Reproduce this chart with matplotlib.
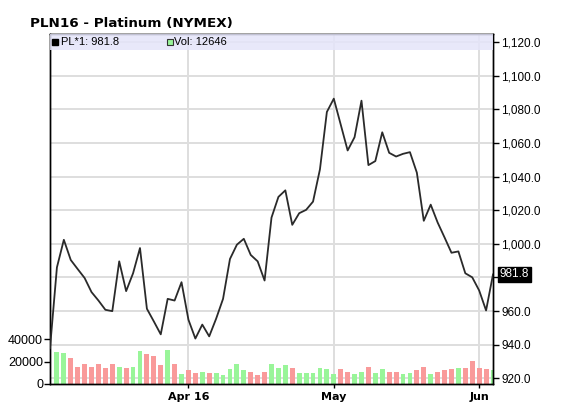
import matplotlib
matplotlib.use("Agg")
import matplotlib.pyplot as plt
import matplotlib.transforms as mtransforms
from matplotlib.patches import Rectangle
import pandas as pd

plt.rcParams['font.family'] = ['Liberation Sans', 'DejaVu Sans']

title = "PLN16 - Platinum (NYMEX)"
symbol = "PL*1"
dates = pd.bdate_range("2016-03-03", "2016-06-03", freq="C",
                       holidays=["2016-03-25", "2016-05-30"])
close = [938.0, 986.0, 1002.4, 990.4, 985.0, 979.7, 971.3, 966.3, 960.8, 960.0,
         989.6, 971.9, 982.5, 997.5, 961.4, 953.9, 946.2, 967.3, 966.3, 977.2,
         954.9, 943.7, 952.0, 945.0, 955.5, 967.3, 991.0, 999.5, 1003.0, 993.4,
         989.6, 978.2, 1015.6, 1027.9, 1031.8, 1011.3, 1018.2, 1020.2, 1025.1, 1044.3,
         1078.4, 1086.3, 1070.9, 1055.5, 1063.4, 1085.1, 1046.8, 1049.2, 1066.3, 1054.1,
         1051.9, 1053.5, 1054.5, 1042.3, 1013.7, 1023.3, 1012.7, 1003.8, 994.7, 995.5,
         982.5, 980.1, 972.3, 960.4, 981.8]
# volume for dates[1:]
volume = [28400, 27500, 23000, 15500, 17600, 15500, 17600, 14600, 17600, 15500,
          14600, 15500, 29500, 26600, 25400, 16700, 30400, 17600, 9000, 12200,
          10100, 11000, 10100, 10100, 7800, 13100, 17600, 12200, 11000, 7800,
          11000, 17600, 14600, 16700, 14600, 10100, 10100, 10100, 14600, 13100,
          9000, 13100, 11000, 9000, 11000, 15500, 10100, 13100, 11000, 11000,
          9000, 10100, 12200, 15500, 9000, 11000, 12200, 13100, 14600, 14600,
          20900, 14600, 13100, 12646]
month_ticks = ["2016-04-01", "2016-05-02", "2016-06-01"]
month_labels = ["Apr 16", "May", "Jun"]
price_ticks = list(range(920, 1121, 20))
vol_ticks = [0, 20000, 40000]

up_color = '#99f599'
down_color = '#f99a9a'
grid_color = '#dedede'

x = list(range(len(dates)))
date_index = {d.strftime("%Y-%m-%d"): i for i, d in enumerate(dates)}
tick_x = [date_index[m] for m in month_ticks]

W, H = 576, 412
fig = plt.figure(figsize=(W / 100, H / 100), dpi=100)
top_px, bot_px, left_px, right_px = 34, 384, 50, 493
L, R, Bt, Tp = left_px / W, right_px / W, (H - bot_px) / H, (H - top_px) / H
pw, ph = right_px - left_px, bot_px - top_px
ax_v = fig.add_axes([L, Bt, R - L, Tp - Bt])
ax = ax_v.twinx()
ax.set_zorder(ax_v.get_zorder() + 1)
ax.patch.set_visible(False)

# grid (drawn in the lower axes so bars sit on top)
blend = mtransforms.blended_transform_factory(ax_v.transAxes, ax.transData)
for p in price_ticks:
    ax_v.plot([0, 1], [p, p], transform=blend, color=grid_color, lw=1.4, zorder=0)
for tx in tick_x:
    ax_v.axvline(tx, color=grid_color, lw=1.4, zorder=0)

# volume bars
colors = [up_color if close[i + 1] >= close[i] else down_color for i in range(len(volume))]
ax_v.bar(x[1:], volume, width=0.7, color=colors, zorder=2)
ax_v.set_ylim(0, 313000 * ph / 349)
ax_v.set_yticks(vol_ticks)
ax_v.set_yticklabels([str(v) for v in vol_ticks])
ax_v.set_xlim(0, len(dates) - 1)
ax_v.set_xticks(tick_x)
ax_v.set_xticklabels(month_labels, fontweight='bold', fontsize=8,
                     family=['DejaVu Sans'])
ax_v.tick_params(axis='x', length=3, width=1, pad=3)
ax_v.tick_params(axis='y', labelsize=9, length=4, width=1, pad=1)

# price line
last = close[-1]
ax.plot(x, close, color='#2a2a2a', lw=1.3, zorder=3)
ax.set_ylim(920 - 5.6 / 1.692, 1120 + (42 - top_px) / 1.692)
ax.set_yticks(price_ticks)
ax.set_yticklabels(["" if abs(p - last) < 10 else f"{p:,.1f}" for p in price_ticks])
ax.tick_params(axis='y', labelsize=8.5, length=4, width=1, pad=2)
ax.set_xlim(0, len(dates) - 1)

for a in (ax, ax_v):
    for s in a.spines.values():
        s.set_color('black')
        s.set_linewidth(1.0)

# legend band
band_h = 16 / ph
ax.add_patch(Rectangle((0, 1 - band_h), 1, band_h, transform=ax.transAxes,
                       facecolor='#e4e4fa', edgecolor='none', alpha=0.85, zorder=4))
ly = 1 - 7.5 / ph
ax.plot([4.5 / pw], [ly], marker='s', ms=4, mfc='black', mec='black',
        transform=ax.transAxes, zorder=5, clip_on=False)
ax.text(11 / pw, ly, f"{symbol}: {last:.1f}", transform=ax.transAxes,
        fontsize=8, va='center', ha='left', zorder=5)
ax.plot([119.5 / pw], [ly], marker='s', ms=4, mfc='#99f599', mec='#333333', mew=0.8,
        transform=ax.transAxes, zorder=5, clip_on=False)
ax.text(124 / pw, ly, f"Vol: {volume[-1]}", transform=ax.transAxes,
        fontsize=8, va='center', ha='left', zorder=5)

# last price box
lblend = mtransforms.blended_transform_factory(ax.transAxes, ax.transData)
ax.text(1 + 7 / pw, last, f"{last:.1f}", transform=lblend, fontsize=8.5,
        color='white', va='center', ha='left', zorder=10, clip_on=False,
        bbox=dict(boxstyle='square,pad=0.15', facecolor='black', edgecolor='black'))

fig.text(30 / W, 1 - 24 / H, title, fontsize=9.7, fontweight='bold', va='center',
         ha='left', family=['DejaVu Sans'])

fig.savefig("out.png", dpi=100)
